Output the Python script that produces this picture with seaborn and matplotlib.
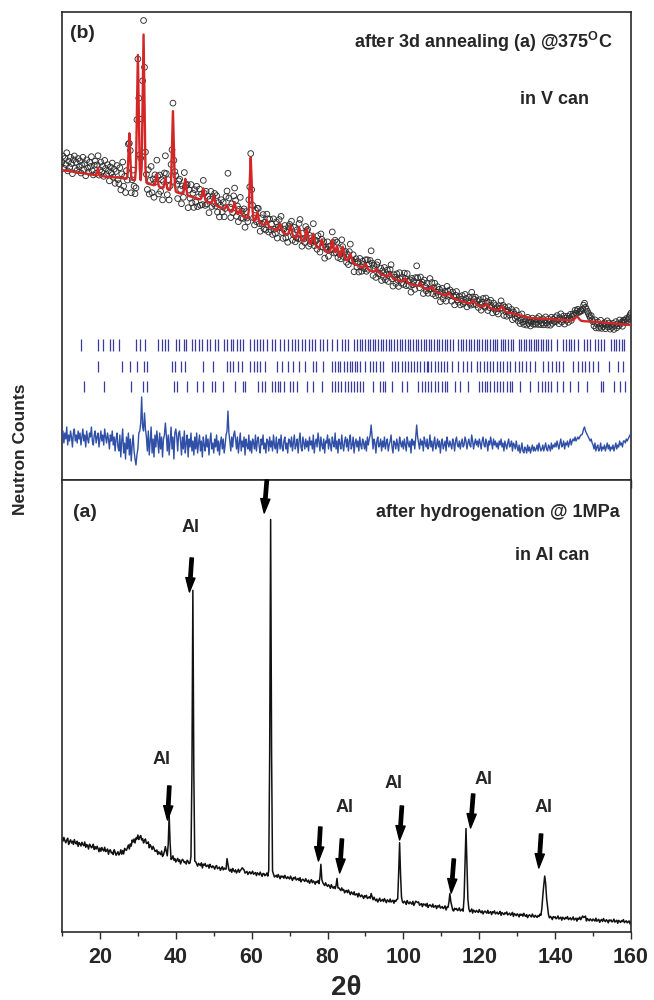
import numpy as np
import pandas as pd
import matplotlib
matplotlib.use("Agg")
import matplotlib.pyplot as plt
import seaborn as sns
from matplotlib.ticker import MultipleLocator
from matplotlib import font_manager

# ---------------- data ----------------
two_theta_start = 10.0
two_theta_step = 0.25

# (b) refinement: background knots of calculated curve
bg_top_x = [10, 20, 26, 30, 34, 40, 47, 53.5, 62, 71, 80.7, 89.4, 98.4, 107.1, 115.8, 124.8, 133.5, 142.2, 151.2, 160]
bg_top_y = [312, 306, 304, 301, 297, 290, 282, 272, 259, 245, 229, 214, 202, 192, 180, 172, 164, 162, 160, 157]
# (b) reflections: position, height above background, FWHM
peak_top_pos = [19.5, 27.75, 30.0, 31.5, 35.0, 37.25, 39.25, 42.5, 47.25, 50.0, 53.5, 55.5, 57.0, 59.75, 61.5, 64.0,
                67.5, 70.25, 72.5, 74.5, 76.25, 78.5, 81.25, 82.5, 84.0, 86.0, 90.0, 93.0, 96.5, 100.5, 104.5, 107.5,
                112.0, 118.5, 122.0, 126.0, 145.75]
peak_top_h = [8, 46, 126, 148, 12, 11, 80, 16, 12, 9, 5, 11, 6, 62, 10, 6,
              8, 10, 12, 14, 12, 10, 14, 10, 12, 8, 5, 4, 4, 4, 4, 4,
              4, 4, 4, 5, 4]
peak_top_w = [0.4, 0.5, 0.55, 0.55, 0.5, 0.5, 0.55, 0.5, 0.6, 0.6, 0.6, 0.6, 0.6, 0.6, 0.6, 0.6,
              0.7, 0.7, 0.7, 0.7, 0.7, 0.7, 0.7, 0.7, 0.7, 0.8, 0.8, 0.8, 0.8, 0.8, 0.8, 0.8,
              0.9, 0.9, 0.9, 0.9, 1.2]
# (b) observed - calculated, one value per 0.25 deg step (in units of resid_unit)
resid_top = [
    4, 7, 1, 6, 3, 9, 0, 5, 2, 7, 4, -1, 6, 8, 2, 5, 1, 7, 3, 6,
    0, 4, 8, 2, 5, -1, 7, 3, 1, 6, 4, 9, 2, 0, 5, 7, 1, 4, 6, -1,
    3, 7, 2, 5, 0, 8, 4, 1, 6, 3, -2, 5, 2, 7, 0, 4, -3, 3, 6, -1,
    -3, 5, -6, 2, 8, -4, 1, -7, 4, -2, 6, -5, 3, -8, 0, 5, -3, -7, -10, -5,
    -2, 6, 7, 11, 24, 9, 7, 16, 8, 4, -3, 7, -5, 2, 9, -4, 3, -6, 5, -1,
    7, 2, -4, 6, -2, 4, -6, 3, 5, 11, 5, -3, 5, -5, 2, 9, -2, 4, -7, 6,
    8, 4, -3, 6, 7, 2, -5, 4, -2, 7, -4, 1, 5, -6, 3, -1, 6, -3, 2, -5,
    4, -2, 6, -4, 1, 5, -3, 2, -6, 4, 0, -3, 5, -1, 3, -5, 2, 6, -2, 1,
    -4, 3, -1, 5, -3, 2, -5, 1, 4, -2, 3, -4, 0, 5, 7, 17, 6, 2, -3, 4,
    -1, 5, 7, 3, -2, 4, -4, 1, 6, -3, 2, -1, 4, -5, 3, 0, -2, 5, -3, 2,
    -4, 3, 1, -2, 5, -3, 2, 4, -1, -4, 3, 0, 5, -2, 1, -4, 3, 2, -3, 4,
    -1, 2, -3, 5, 0, -2, 4, -4, 1, 3, -2, 5, -1, -3, 2, 4, -2, 1, -4, 3,
    2, -1, 4, -3, 1, 5, -2, 0, 3, -4, 2, 6, -1, -3, 4, 1, -2, 3, -1, 2,
    -3, 4, 0, 2, -2, 5, -4, 1, 3, -1, 6, 2, -3, 4, 0, -2, 3, -4, 2, 1,
    5, -2, 3, 0, -3, 4, 1, -1, 6, -2, 2, -4, 3, 1, -2, 5, 0, -3, 2, 4,
    -1, 3, -3, 2, 5, -2, 0, 4, -4, 1, 3, -1, 2, -3, 4, 0, -2, 3, 1, -2,
    2, -3, 4, 0, 3, 5, 10, 4, -2, 3, 1, -4, 2, 4, -1, 0, 3, -3, 2, -1,
    4, -2, 1, 3, -3, 0, 2, 5, -1, -4, 2, 1, -2, 3, 0, -3, 4, 1, -1, 2,
    -2, 3, 0, -3, 4, 1, -1, 2, -4, 3, 0, 2, -2, 4, 10, 4, 1, -2, 3, 0,
    2, -3, 4, 1, -1, 3, -2, 0, 5, -1, 2, -3, 1, 4, -2, 0, 3, -1, 2, -4,
    1, 3, -2, 0, 2, -3, 4, 1, -1, 2, 0, -2, 3, 1, -3, 2, 4, 0, -1, 2,
    -2, 1, 3, -1, 0, 4, 2, -2, 1, 3, 0, -1, 5, 2, -2, 1, 3, 0, 2, -1,
    3, 1, -2, 2, 4, 0, -1, 3, 1, -3, 2, 0, 4, 1, -2, 3, 0, 2, -1, 1,
    -2, 2, 0, 3, -1, 1, -3, 2, 0, -2, 1, 3, -1, 0, 2, -3, 1, 0, -2, 2,
    -1, -3, 0, -4, -2, 1, -3, -4, -1, -2, -4, 0, -3, -1, -4, -2, 0, -3, -1, -3,
    -2, 0, -3, 1, -1, -3, -2, 0, -3, -1, 1, -2, -3, 0, -1, -3, 1, -2, 0, -1,
    1, -1, 2, 0, -2, 1, 3, -1, 0, 2, -2, 1, 0, 2, -1, 1, 3, 0, 2, 3,
    2, 4, 2, 3, 4, 3, 4, 5, 5, 6, 8, 9, 7, 6, 5, 4, 3, 2, 3, 1,
    0, -2, 1, -3, -1, 0, -3, -2, 1, -3, -1, -2, 0, -3, -1, 1, -2, 0, -3, -1,
    -2, 0, -3, -1, 1, -2, 0, -1, 2, 0, 1, -1, 2, 2, 1, 3, 2, 3, 4, 5,
    6]
resid_unit = 2.0
diff_offset = 37

# (b) Bragg reflection markers, three phases
bragg_phase1 = [14.9, 19.6, 20.7, 22.7, 23.5, 25.1, 29.5, 30.6, 31.9, 35.4, 36.3, 37.2, 38.0, 40.1, 40.9, 42.2, 42.7,
                44.2, 45.1, 46.2, 46.9, 48.2, 49.1, 50.4, 51.2, 52.6, 53.5, 54.5, 55.2, 56.1, 57.0, 57.8, 59.6, 60.5,
                61.4, 62.2, 63.1, 64.0, 65.3, 66.2, 67.5, 68.6, 69.7, 70.6, 71.5, 72.3, 73.2, 74.1, 75.0, 75.9, 76.8,
                78.1, 78.9, 79.8, 81.2, 82.5, 83.8, 84.7, 85.5, 86.9, 87.8, 88.5, 89.2, 89.8, 90.6, 91.3, 92.0, 92.6,
                93.4, 94.1, 94.7, 95.5, 96.2, 96.8, 97.5, 98.3, 99.0, 99.6, 100.4, 101.1, 101.7, 102.5, 103.2, 103.8,
                104.6, 105.3, 105.9, 106.7, 107.4, 108.0, 108.8, 109.5, 110.1, 110.9, 111.6, 112.2, 113.0, 114.3,
                115.1, 115.8, 116.4, 117.2, 117.9, 118.5, 119.3, 120.0, 120.6, 121.4, 122.1, 122.7, 123.5, 124.2,
                124.8, 125.6, 126.3, 126.9, 127.7, 128.4, 129.0, 130.4, 131.0, 131.7, 132.3, 133.0, 133.6, 134.3,
                134.9, 135.6, 136.2, 136.9, 137.5, 138.2, 138.8, 140.6, 142.2, 142.9, 143.6, 144.3, 145.0, 145.9,
                147.5, 148.3, 149.3, 150.5, 151.3, 152.1, 152.9, 154.6, 155.4, 156.1, 156.9, 157.6, 158.2]
bragg_phase2 = [19.6, 25.7, 27.8, 29.9, 31.5, 32.5, 38.9, 39.8, 41.3, 42.5, 47.3, 49.9, 53.5, 54.3, 55.2, 56.5, 57.4,
                59.6, 60.5, 61.4, 62.2, 63.6, 66.6, 68.0, 69.7, 71.0, 72.6, 74.1, 76.3, 77.0, 78.9, 81.2, 81.9, 82.7,
                83.4, 84.3, 85.0, 85.8, 86.5, 87.2, 87.8, 88.6, 89.9, 91.3, 92.1, 92.9, 93.8, 94.7, 97.0, 97.8, 98.6,
                99.5, 100.3, 101.1, 102.0, 102.8, 103.7, 104.5, 105.4, 106.3, 106.6, 107.4, 108.3, 109.2, 110.0,
                110.8, 111.6, 112.9, 114.5, 115.8, 116.7, 117.7, 119.5, 120.3, 121.2, 122.0, 122.9, 123.7, 124.6,
                125.5, 126.3, 127.2, 128.2, 129.5, 130.4, 131.3, 132.3, 133.5, 134.8, 136.9, 138.2, 139.1, 140.1,
                141.1, 142.2, 144.8, 145.9, 147.0, 148.0, 149.0, 150.1, 151.4, 154.1, 156.7, 158.0]
bragg_phase3 = [15.9, 21.1, 28.2, 31.3, 32.5, 39.4, 40.4, 42.9, 45.5, 47.3, 49.5, 50.4, 52.4, 55.5, 57.8, 58.3, 61.8,
                62.7, 63.6, 65.3, 66.1, 66.9, 67.6, 68.4, 70.2, 71.0, 71.9, 74.6, 76.3, 78.5, 81.2, 81.9, 82.8, 83.6,
                84.5, 85.3, 86.2, 87.0, 87.8, 88.6, 89.4, 92.1, 93.9, 94.6, 95.2, 97.1, 99.7, 101.0, 103.9, 104.8,
                105.7, 106.6, 107.4, 108.3, 109.2, 110.1, 110.9, 111.6, 113.7, 115.0, 116.9, 119.8, 120.6, 121.4,
                122.1, 122.9, 123.8, 124.6, 125.5, 126.3, 127.2, 128.0, 128.7, 130.8, 133.5, 135.6, 136.5, 137.3,
                138.0, 138.8, 140.6, 142.2, 144.0, 145.9, 148.5, 152.0, 152.7, 155.4, 157.2, 158.5]
bragg_rows = [(131, 143), (110, 121), (90, 101)]

# (a) after hydrogenation: background knots, peaks and noise
bg_bot_x = [10, 15, 20, 25, 27.5, 30, 32.5, 35, 40, 44, 50, 54, 60, 64, 70, 78, 88, 93, 100, 115, 137, 145, 160]
bg_bot_y = [92, 88, 83, 78, 84, 94, 89, 80, 72, 69, 65, 62, 59, 57, 54, 49, 37, 32, 30, 22, 15, 13, 10]
peak_bot_pos = [37.25, 38.25, 44.5, 53.5, 57.5, 65.0, 78.25, 82.5, 91.5, 99.0, 103.5, 112.25, 116.5, 137.25, 147.5]
peak_bot_h = [12, 40, 272, 10, 6, 358, 18, 8, 4, 58, 3, 14, 80, 40, 3]
peak_bot_w = [0.35, 0.4, 0.4, 0.4, 0.4, 0.4, 0.4, 0.4, 0.5, 0.5, 0.5, 0.5, 0.6, 1.0, 1.0]
noise_bot = [
    2, -1, 3, 0, -2, 1, 3, -3, 0, 2, -1, 1, -2, 3, 0, -1, 2, -3, 1, 0,
    -2, 2, 0, -1, 3, -2, 1, 0, -3, 2, 1, -1, 0, 3, -2, 1, -1, 2, 0, -3,
    1, -2, 2, 0, -1, 3, -1, 0, 2, -3, 1, 2, -1, 0, -2, 3, 1, -2, 0, 2,
    -1, 0, 3, -2, 1, -3, 2, 0, -1, 1, 3, -2, 2, -1, 4, 1, 3, -2, 2, 0,
    3, -1, 2, 4, 0, 2, -2, 1, 3, -1, 0, 2, -3, 1, 0, -2, 2, 1, -1, 0,
    2, -2, 1, 0, -1, 3, -2, 0, 1, -3, 2, 0, -1, 2, 1, -2, 0, 3, -1, 1,
    -2, 0, 2, -1, 1, -3, 0, 2, 1, -1, 0, -2, 2, 1, -1, 0, 3, -2, 1, 0,
    -1, 2, 0, -2, 1, 0, -1, 2, -3, 1, 0, 2, -1, 0, 1, -2, 2, 0, -1, 1,
    0, -2, 1, 2, -1, 0, 1, -2, 0, 2, -1, 1, 0, -3, 1, 2, 0, -1, 1, -2,
    2, 0, -1, 1, -2, 0, 2, -1, 1, 0, -2, 1, 2, -1, 0, 1, -2, 0, 1, -1,
    0, 2, -1, 0, 1, -2, 1, 0, -1, 2, 0, -2, 1, 1, -1, 0, 2, -1, 0, 1,
    -2, 1, 0, 2, -1, 0, 1, -1, 2, 0, -2, 1, 0, 1, -1, 2, 0, -1, 1, 0,
    -1, 2, 0, -2, 1, 0, 2, -1, 0, 1, -1, 2, -2, 0, 1, 0, -1, 2, 0, -1,
    1, -2, 0, 2, -1, 1, 0, -2, 1, 0, 2, -1, 0, 1, -2, 1, 0, -1, 2, 0,
    -1, 1, 0, -2, 2, 0, -1, 1, -1, 0, 2, -2, 1, 0, -1, 2, 0, 1, -2, 0,
    1, -1, 2, 0, -2, 1, 0, -1, 2, -1, 0, 1, -2, 2, 0, -1, 1, 0, -2, 1,
    0, 2, -1, 0, 1, -2, 1, 0, -1, 2, 0, -1, 1, -2, 0, 2, -1, 0, 1, -1,
    2, 0, -2, 1, 0, -1, 2, -1, 0, 1, -2, 1, 0, 2, -1, 0, 1, -2, 1, 0,
    -1, 1, 0, -2, 2, 0, -1, 1, 0, -1, 2, -2, 0, 1, -1, 0, 2, -1, 0, 1,
    -2, 1, 0, 1, -1, 2, -2, 0, 1, 0, -1, 2, -1, 0, 1, -2, 1, 0, 2, -1,
    0, 1, -1, 0, 2, -2, 1, 0, -1, 1, 0, 2, -1, -2, 1, 0, 1, -1, 0, 2,
    -1, 0, 1, -2, 1, 0, 2, -1, 0, 1, -1, 0, 2, -2, 1, 0, -1, 1, 0, -1,
    2, 0, -1, 1, -2, 0, 1, 0, -1, 2, -1, 0, 1, -2, 1, 0, 2, -1, 0, 1,
    -1, 0, 2, -2, 1, 0, -1, 1, 0, 2, -1, 0, 1, -1, 0, 2, -2, 1, 0, -1,
    1, 0, -2, 1, 0, 1, -1, 2, 0, -1, 1, -2, 0, 1, 0, -1, 2, 0, -1, 1,
    0, -1, 1, 0, 2, -1, 0, 1, -2, 1, 0, -1, 2, 0, -1, 1, 0, -2, 1, 0,
    1, -1, 0, 2, -1, 0, 1, -2, 1, 0, -1, 1, 0, 2, -1, 0, 1, -1, 0, 2,
    -1, 0, 1, -2, 1, 0, 2, -1, 0, 1, -1, 0, 2, -2, 1, 0, -1, 1, 0, -1,
    1, 0, -1, 2, -1, 0, 1, -2, 0, 1, -1, 2, 0, -1, 1, 0, -2, 1, 0, 1,
    -1, 0, 2, -1, 0, 1, -2, 1, 0, -1, 1, 0, 2, -1, 0, 1, -1, 0, 1, -2,
    0]

# annotation arrows in panel (a): (tail x, tail y, tip x, tip y)
arrows_bot = [(64.0, 452, 63.3, 419), (44.2, 374, 43.6, 340), (38.3, 146, 37.8, 112), (78.1, 105, 77.6, 71),
              (83.8, 93, 83.2, 59), (99.6, 126, 99.0, 92), (113.3, 73, 112.6, 39), (118.4, 138, 117.7, 104),
              (136.3, 98, 135.7, 64)]
al_labels = [(44.0, 404), (36.3, 172), (84.4, 125), (97.3, 149), (121.2, 152), (137.0, 124)]

x_ticks = [20, 40, 60, 80, 100, 120, 140, 160]

# ---------------- build profiles ----------------
def profile(x, bx, by, pos, h, w):
    y = np.interp(x, bx, by)
    for c, a, fw in zip(pos, h, w):
        y = y + a * np.exp(-4 * np.log(2) * ((x - c) / fw) ** 2)
    return y

n_top = len(resid_top)
x_top = two_theta_start + two_theta_step * np.arange(n_top)
calc_top = profile(x_top, bg_top_x, bg_top_y, peak_top_pos, peak_top_h, peak_top_w)
resid = resid_unit * np.array(resid_top)
df_top = pd.DataFrame({"tt": x_top, "obs": calc_top + resid, "calc": calc_top,
                       "diff": diff_offset + resid})

n_bot = len(noise_bot)
x_bot = two_theta_start + two_theta_step * np.arange(n_bot)
obs_bot = profile(x_bot, bg_bot_x, bg_bot_y, peak_bot_pos, peak_bot_h, peak_bot_w) + np.array(noise_bot)
df_bot = pd.DataFrame({"tt": x_bot, "obs": obs_bot})

# ---------------- figure ----------------
sns.set_theme(style="white")
plt.rcParams["font.family"] = ["Liberation Sans", "DejaVu Sans"]
plt.rcParams["mathtext.fontset"] = "custom"
plt.rcParams["mathtext.rm"] = "Liberation Sans"
plt.rcParams["mathtext.bf"] = "Liberation Sans:bold"

installed = {f.name for f in font_manager.fontManager.ttflist}
tick_family = "Liberation Sans Narrow" if "Liberation Sans Narrow" in installed else "Liberation Sans"
tick_size = 17.5 if tick_family == "Liberation Sans Narrow" else 15.5

fig = plt.figure(figsize=(6.54, 10.0), dpi=100)
L, W = 62 / 654, 569 / 654
ax_top = fig.add_axes([L, 1 - 480 / 1000, W, 468 / 1000])
ax_bot = fig.add_axes([L, 1 - 932 / 1000, W, 452 / 1000])

spine_col = "#2a2a2a"
for ax in (ax_top, ax_bot):
    for s in ax.spines.values():
        s.set_color(spine_col)
        s.set_linewidth(1.2)
    ax.set_xlim(10, 160)
    ax.set_yticks([])

# panel (b)
sns.scatterplot(data=df_top, x="tt", y="obs", ax=ax_top, marker="o", s=17,
                facecolors="none", edgecolors="#2e2e2e", linewidths=0.65, legend=False, zorder=2)
sns.lineplot(data=df_top, x="tt", y="calc", ax=ax_top, color="#d42626", lw=1.7, zorder=3)
sns.lineplot(data=df_top, x="tt", y="diff", ax=ax_top, color="#3050a8", lw=1.0, zorder=3)
for pos, (y0, y1) in zip([bragg_phase1, bragg_phase2, bragg_phase3], bragg_rows):
    ax_top.vlines(pos, y0, y1, color="#3a3a9c", lw=0.9)
ax_top.set_ylim(2, 470)
ax_top.set_xlabel("")
ax_top.set_ylabel("")
ax_top.xaxis.set_major_locator(MultipleLocator(20))
ax_top.xaxis.set_minor_locator(MultipleLocator(10))
ax_top.tick_params(axis="x", which="both", bottom=True, top=False, labelbottom=False,
                   direction="out", color=spine_col, width=1.0)
ax_top.tick_params(axis="x", which="major", length=5.5)
ax_top.tick_params(axis="x", which="minor", length=3)

ax_top.text(0.014, 0.953, "(b)", transform=ax_top.transAxes, ha="left", va="center",
            fontsize=14, fontweight="bold")
ax_top.text(0.967, 0.936, r"after 3d annealing (a) @375$^{\bf O}$C", transform=ax_top.transAxes,
            ha="right", va="center", fontsize=13, fontweight="bold")
ax_top.text(0.866, 0.812, "in V can", transform=ax_top.transAxes, ha="center", va="center",
            fontsize=13, fontweight="bold")

# panel (a)
sns.lineplot(data=df_bot, x="tt", y="obs", ax=ax_bot, color="#111111", lw=1.1)
ax_bot.set_ylim(0, 452)
ax_bot.set_xlabel("")
ax_bot.set_ylabel("")
ax_bot.set_xticks(x_ticks)
ax_bot.xaxis.set_minor_locator(MultipleLocator(10))
ax_bot.tick_params(axis="x", which="both", bottom=True, top=False, direction="out",
                   color=spine_col, width=1.0)
ax_bot.tick_params(axis="x", which="major", length=5, pad=6, labelsize=tick_size)
ax_bot.tick_params(axis="x", which="minor", length=3)
for lab in ax_bot.get_xticklabels():
    lab.set_fontweight("bold")
    lab.set_fontfamily(tick_family)

for tx, ty, hx, hy in arrows_bot:
    ax_bot.annotate("", xy=(hx, hy), xytext=(tx, ty),
                    arrowprops=dict(arrowstyle="simple,head_length=0.85,head_width=0.55,tail_width=0.2",
                                    mutation_scale=12, color="black", shrinkA=0, shrinkB=0))
for lx, ly in al_labels:
    ax_bot.text(lx, ly, "Al", ha="center", va="center", fontsize=13, fontweight="bold")

ax_bot.text(0.019, 0.929, "(a)", transform=ax_bot.transAxes, ha="left", va="center",
            fontsize=14, fontweight="bold")
ax_bot.text(0.981, 0.929, "after hydrogenation @ 1MPa", transform=ax_bot.transAxes, ha="right",
            va="center", fontsize=13, fontweight="bold")
ax_bot.text(0.861, 0.834, "in Al can", transform=ax_bot.transAxes, ha="center", va="center",
            fontsize=13, fontweight="bold")

fig.text(21 / 654, 1 - 449 / 1000, "Neutron Counts", rotation=90, ha="center", va="center",
         fontsize=12.5, fontweight="bold")
fig.text((62 + 631) / 2 / 654, 1 - 988 / 1000, "2θ", ha="center", va="center",
         fontsize=20, fontweight="bold", family=tick_family)

fig.savefig("out.png", dpi=100)
